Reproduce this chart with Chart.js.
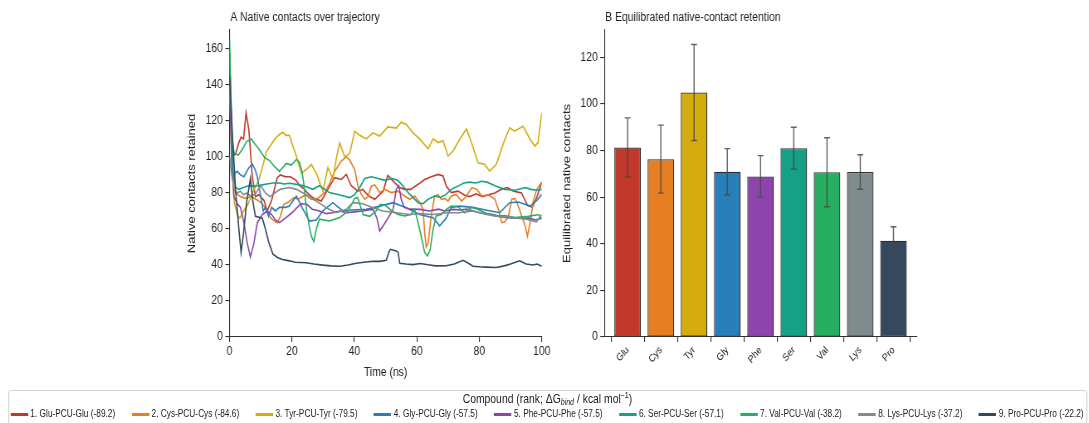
<!DOCTYPE html>
<html>
<head>
<meta charset="utf-8">
<script src="https://cdn.jsdelivr.net/npm/chart.js@4.4.1/dist/chart.umd.min.js"></script>
<style>
  html, body { margin: 0; padding: 0; background: #fff; }
  body { width: 1089px; height: 423px; position: relative; overflow: hidden; color: #222;
         font-family: 'Liberation Sans', Arial, sans-serif; }
  /* the figure is laid out on a wider sheet and compressed horizontally */
  #fig { position: absolute; left: 0; top: 0; width: 1312px; height: 423px;
         transform: scaleX(0.83); transform-origin: 0 0; }
  #trajCanvas { position: absolute; left: 0; top: 0; }
  #barCanvas { position: absolute; left: 660px; top: 0; }
  #legend { position: absolute; left: 9.6px; top: 390px; width: 1300px; height: 44px; box-sizing: border-box;
            border: 1px solid #cfcfcf; border-radius: 3px; background: #fff; }
  #legendTitle { position: absolute; left: 0; right: 0; top: 1px; text-align: center; font-size: 12.5px; line-height: 14px; }
  #legendTitle sub { font-size: 8.5px; font-style: italic; vertical-align: -2px; line-height: 0; }
  #legendTitle sup { font-size: 8.5px; vertical-align: 5px; line-height: 0; }
  #legendItems { position: absolute; left: 2px; right: 3px; top: 17px; display: flex; justify-content: space-between;
                 font-size: 10px; line-height: 12px; white-space: nowrap; }
  .item { display: flex; align-items: center; }
  .swatch { width: 21px; height: 3px; margin-right: 3px; }
</style>
</head>
<body>
<div id="fig">
  <canvas id="trajCanvas" width="680" height="385"></canvas>
  <canvas id="barCanvas" width="652" height="385"></canvas>
  <div id="legend">
    <div id="legendTitle">Compound (rank; ΔG<sub>bind</sub> / kcal mol<sup>−1</sup>)</div>
    <div id="legendItems"></div>
  </div>
</div>
<script>
// ---- series: [time (ns), native contacts] ----
const glu = [[0,140],[1,100],[2,102],[3,108],[3.7,111],[4.5,110],[5.3,124.5],[6.2,115],[7.3,89],[8.3,78],[9.4,79],[11,76],[12.1,70],[13.5,76],[15.3,88.5],[16.3,90],[17.9,89],[19.5,89],[21.3,87],[22.5,84],[24,82],[25.5,79],[27,77],[29.4,75.5],[31.5,82],[33.7,88.5],[35.8,87.5],[37.4,90.3],[39,84],[41.1,81],[42.7,82],[44.4,78.5],[46.5,76.5],[49.2,81],[50.7,89.7],[52.9,85.7],[54.5,83],[56.1,82],[58,82],[60.4,84.8],[62.5,87.5],[64.6,89],[66.8,90.3],[68.4,89.4],[69.4,83.8],[71,80.2],[73.2,81],[75.3,78.7],[77,78],[79,79.5],[81,78],[83,79],[85,80],[87,82],[89,83],[91,81],[93.5,80],[95.5,73],[97,72],[98.5,78],[100,86]];
const cys = [[0,135],[1,88],[1.9,80],[3.5,78],[5.1,77],[7,78],[9,76],[10.5,74],[12.1,70],[13.1,66.3],[14.2,64.6],[15.3,63.5],[16.3,67],[17.4,73.7],[19,75],[20.6,77.4],[22,76.5],[24.4,79],[26.2,76.5],[28.3,77],[30.4,80.2],[32,85],[33.7,92.1],[35.8,97.7],[37.4,100],[38.4,98.6],[40.1,93],[41.1,84],[42.2,79.2],[43.3,76.5],[44.4,78],[45.4,83.8],[46.5,84.5],[48.1,80.2],[49.7,82],[51.8,80.2],[53.9,81],[56.1,78.3],[57.7,76.5],[59.3,78.3],[60.9,74.7],[62,70.9],[62.5,58],[63,50],[63.6,52],[64.6,67.2],[65.7,78.3],[66.8,79],[67.9,76.5],[69,77],[70,75.5],[71,78.3],[72.6,79.2],[74.3,75.5],[75.9,78.3],[77.6,83],[79.2,82],[80.8,78.3],[82.9,79],[85,76.5],[86.1,71],[87.2,63.5],[88.2,64],[89.3,67],[90.4,76.5],[91.4,77],[92.5,72.7],[93.6,67],[94.7,61.7],[95.4,56],[96.3,63.6],[97.3,75.5],[98.4,82],[100,86]];
const tyr = [[0,140],[0.8,95],[1.5,75],[2.5,68],[3.3,66],[4.5,70],[6,74],[7.3,80],[8.5,84],[9.5,88],[10.5,94],[11.8,103],[13,106],[14.5,110],[16,112.5],[17.1,113.7],[18,112],[19.2,112],[20.3,106],[21.4,100.5],[23,91],[24.6,93],[26.2,95.8],[27.8,91],[29.9,81],[31.5,94],[33.1,87.8],[34.3,100],[35.3,107.8],[36.9,100],[38.5,102],[40.1,114.3],[41.7,112],[43.8,110],[45.9,113.4],[48.1,111.6],[50.7,116.7],[53.4,116],[55,119.3],[56.6,118],[58.8,113.4],[60.9,110],[63.6,104.5],[65.2,110],[66.8,108],[68.4,109],[70,100.5],[71.6,103.3],[73.7,109.7],[75.9,115.6],[77.5,108],[79.6,96.8],[81.7,96],[83.3,92.1],[85.5,96],[87.6,107],[89.7,116.2],[91.3,114.3],[94,117],[96.2,110],[97.8,106],[98.8,108],[100,124.5]];
const gly = [[0,155],[0.9,90],[2.5,92],[3.5,90],[4.6,89],[6.2,94],[7.3,96],[8.2,93],[8.9,89],[10,78],[10.8,70],[11.5,72],[12.5,67],[13.5,72],[14.7,70],[16,72],[17.9,72],[19.2,72.7],[21.4,78.3],[23.5,71],[25.6,64.4],[27.8,65],[29.9,70],[33.1,74.6],[36.3,70],[39,70.5],[43.8,70.9],[48.1,72.7],[52.4,74.6],[56.6,71.8],[60.9,68],[65.2,66.3],[67.3,61.7],[69.4,66],[71,72],[73.7,72.7],[78,72],[82,70.5],[86.5,69],[89.7,74.6],[92.5,75],[96.3,72.7],[98.5,76],[100,79.2]];
const phe = [[0,140],[0.7,100],[1.4,78],[2.5,74],[3.5,72],[4.6,63.5],[5.7,52],[6.7,44.5],[7.8,52],[8.9,63.5],[10.5,68],[12.1,70],[13.5,68],[14.7,65],[16,63.5],[17.9,66],[20,69],[21.7,72],[23,74],[24.7,73.7],[26.5,71],[28.8,70],[31,68.5],[33,69],[35.3,70],[37.4,69],[40,69.5],[42.5,70],[44.5,70.5],[46,70.9],[47.2,66],[48.1,58.9],[50.2,64.4],[52.4,70.9],[53.4,82],[54.2,84],[55,76.5],[56,72],[57.7,71],[61,70.9],[64,70],[67,71],[69,70],[71.6,70.9],[74,70.5],[76,71],[78,70],[80.1,69],[82,68.5],[84.4,68],[86.5,67],[88.7,66.3],[92,66],[96,66],[98,65],[100,66]];
const ser = [[0,160],[0.6,120],[1.2,90],[2,83],[3,82],[4.5,83],[6,84],[7.5,83.8],[9,84],[10.5,84.5],[12,85],[14,85.5],[16,85.5],[17.5,85],[19.2,85.4],[22.4,84.5],[24,83.8],[26.7,82],[28.8,84],[30.5,82],[32,80.2],[35,79],[38.5,77.4],[40,79],[41.7,83],[43.3,88],[45.4,89],[47.6,88],[49.7,87],[52,88],[53.9,87],[55.6,83.8],[57.2,80.2],[58.8,77.4],[60.4,74.6],[62,74],[63.6,76.5],[65.7,78.3],[67.5,77.5],[69.4,79.2],[71,82],[73.2,83.8],[75,85.5],[77,86],[78.8,85.5],[80.8,86.5],[82.5,86],[85,84],[88.2,82],[91.4,81.5],[94.7,83],[96.5,82],[98.5,81.5],[100,82]];
const val = [[0,165],[0.8,110],[1.5,102],[2.8,101],[4,104],[5.5,108.5],[7,110],[8.2,107],[9.6,104],[11.2,99.7],[12.8,98],[14.4,94.7],[16,92],[17,94],[18.2,96.4],[19.8,95.5],[21.4,98.6],[22.4,97],[23.2,92],[23.8,85],[24.7,70],[25.5,62],[26.2,56],[27,53],[27.8,60],[28.8,65.4],[32,64.4],[35.3,66.3],[38,70],[40.1,77],[41,77.5],[42.8,68],[44.9,67],[47,70],[48.3,73.7],[50,73],[52,70],[54,68],[56.1,67.2],[58,68],[59.3,70.9],[60.4,63.5],[61.4,56],[62.5,47],[63.4,45],[64.2,48],[65.2,59.8],[66.2,67.2],[67.8,68],[69.4,70.9],[71,72.7],[73,72.5],[75.3,69],[77.5,72],[79.5,71],[81.8,69],[85,67.2],[88,67.5],[91.4,66.3],[95.7,67],[99,68],[100,65.5]];
const lys = [[0,100],[0.7,90],[1.5,82],[2.5,80],[3.5,81],[4.5,79],[5.5,80],[7,78],[8.5,80],[10,84],[11.5,80],[13,78],[14.5,80],[16.2,82],[19,83],[21.4,82],[23,80.5],[24.6,79],[26,77],[27.8,75.5],[29.5,73.5],[31,71.8],[34.2,69],[37.4,70.9],[39.5,74.6],[42.7,74],[46,71.8],[49.1,70],[53.4,69],[57.7,68],[61,68.5],[65.2,68],[69.4,69],[73.5,69],[78,70],[82.3,68],[86,67],[90.8,66.3],[95.1,65.4],[98.3,64],[100,68]];
const pro = [[0,145],[1,110],[2,80],[3,60],[3.7,47],[4.5,58],[5.5,75],[6.7,88],[7.5,75],[8.3,67],[9.5,66.5],[10.5,66],[11.5,60],[12.5,53],[13.9,46],[15.5,44],[17,43],[19.2,42.3],[21,41.5],[24.5,41.2],[27,40.5],[29.9,39.9],[32.5,39.5],[35.3,39.3],[38,40],[40.6,41],[43,41.5],[46,42.1],[48,42],[50.2,42.6],[51,47],[51.5,48.7],[53.4,47.8],[54,47],[54.5,41],[56.5,40.5],[58.8,40.2],[61,40.8],[64.1,40],[66,39.5],[69.4,39.6],[72,40.5],[74.8,42.6],[76.5,41],[78,39.3],[80,39],[82,38.8],[85.5,38.6],[88,39.5],[90,40.5],[92.9,42.3],[95,40.5],[97.2,40],[98.5,40.5],[100,39.3]];

// ---- equilibrated retention: mean and standard deviation ----
const residues = ['Glu', 'Cys', 'Tyr', 'Gly', 'Phe', 'Ser', 'Val', 'Lys', 'Pro'];
const meanContacts = [81.3, 76.3, 104.9, 70.9, 68.9, 81.0, 70.7, 70.8, 41.3];
const sdContacts = [12.7, 14.6, 20.6, 9.9, 8.9, 9.0, 14.8, 7.4, 6.0];

// ---- legend entries ----
const legendLabels = ['1. Glu-PCU-Glu (-89.2)', '2. Cys-PCU-Cys (-84.6)', '3. Tyr-PCU-Tyr (-79.5)',
  '4. Gly-PCU-Gly (-57.5)', '5. Phe-PCU-Phe (-57.5)', '6. Ser-PCU-Ser (-57.1)',
  '7. Val-PCU-Val (-38.2)', '8. Lys-PCU-Lys (-37.2)', '9. Pro-PCU-Pro (-22.2)'];
const palette = ['#c0392b', '#e67e22', '#d4ac0d', '#2980b9', '#8e44ad', '#16a085', '#27ae60', '#7f8c8d', '#34495e'];

const trajTicks = [0, 20, 40, 60, 80, 100];

const FONT = "'Liberation Sans', Arial, sans-serif";
const INK = '#222';
const SPINE = '#333';

// panel heading drawn flush with the plot area's left edge
const panelTitle = {
  id: 'panelTitle',
  afterDraw(chart, args, opts) {
    const { ctx, chartArea } = chart;
    ctx.save();
    ctx.font = `12.5px ${FONT}`;
    ctx.fillStyle = INK;
    ctx.textBaseline = 'middle';
    ctx.textAlign = 'left';
    ctx.fillText(opts.text, chartArea.left + 1, 18);
    ctx.restore();
  }
};

// ±1 SD whiskers on top of the bars
const errorBars = {
  id: 'errorBars',
  afterDatasetsDraw(chart) {
    const { ctx, scales: { x, y } } = chart;
    ctx.save();
    ctx.strokeStyle = 'rgba(70,70,70,0.85)';
    ctx.lineWidth = 1.4;
    meanContacts.forEach((m, i) => {
      const px = x.getPixelForValue(i);
      const top = y.getPixelForValue(m + sdContacts[i]);
      const bot = y.getPixelForValue(m - sdContacts[i]);
      ctx.beginPath();
      ctx.moveTo(px, top); ctx.lineTo(px, bot);
      ctx.moveTo(px - 3.5, top); ctx.lineTo(px + 3.5, top);
      ctx.moveTo(px - 3.5, bot); ctx.lineTo(px + 3.5, bot);
      ctx.stroke();
    });
    ctx.restore();
  }
};

const axisCommon = {
  grid: { display: true, drawOnChartArea: false, drawTicks: true, tickLength: 5, color: SPINE, lineWidth: 1.1 },
  border: { display: true, color: SPINE, width: 1.1 }
};

const seriesList = [glu, cys, tyr, gly, phe, ser, val, lys, pro];

new Chart(document.getElementById('trajCanvas'), {
  type: 'line',
  data: {
    datasets: seriesList.map((s, i) => ({
      label: legendLabels[i],
      data: s.map(([t, v]) => ({ x: t, y: v })),
      borderColor: palette[i],
      backgroundColor: palette[i],
      borderWidth: 1.6,
      pointRadius: 0,
      tension: 0,
      order: seriesList.length - i
    }))
  },
  options: {
    responsive: false,
    animation: false,
    events: [],
    layout: { padding: { left: 220, right: 27.3, top: 30, bottom: 0 } },
    plugins: {
      legend: { display: false },
      tooltip: { enabled: false },
      panelTitle: { text: 'A Native contacts over trajectory' }
    },
    scales: {
      x: {
        type: 'linear', min: 0, max: 100,
        ...axisCommon,
        afterFit(scale) { scale.height = 48; },
        afterBuildTicks(scale) { scale.ticks = trajTicks.map(v => ({ value: v })); },
        ticks: { color: INK, font: { family: FONT, size: 12.5 }, padding: 2, maxRotation: 0 },
        title: { display: true, text: 'Time (ns)', color: INK, font: { family: FONT, size: 12.5 }, padding: { top: 0, bottom: 5 } }
      },
      y: {
        type: 'linear', min: 0, max: 170.5,
        ...axisCommon,
        afterFit(scale) { scale.width = 56.5; },
        ticks: { stepSize: 20, includeBounds: false, color: INK, font: { family: FONT, size: 12.5 }, padding: 3 },
        title: { display: true, text: 'Native contacts retained', color: INK, font: { family: FONT, size: 13 }, padding: { top: 4, bottom: 0 } }
      }
    }
  },
  plugins: [panelTitle]
});

new Chart(document.getElementById('barCanvas'), {
  type: 'bar',
  data: {
    datasets: [{
      data: meanContacts.map((m, i) => ({ x: i, y: m })),
      backgroundColor: palette,
      borderColor: '#2d2d2d',
      borderWidth: 1.3,
      borderSkipped: false,
      barPercentage: 0.8,
      categoryPercentage: 1
    }]
  },
  options: {
    responsive: false,
    animation: false,
    events: [],
    layout: { padding: { left: 12, right: 207.5, top: 30, bottom: 0 } },
    plugins: {
      legend: { display: false },
      tooltip: { enabled: false },
      panelTitle: { text: 'B Equilibrated native-contact retention' }
    },
    scales: {
      x: {
        type: 'linear', min: -0.7, max: 8.7, offset: false,
        ...axisCommon,
        afterFit(scale) { scale.height = 48; },
        ticks: {
          stepSize: 1, includeBounds: false, autoSkip: false,
          minRotation: 45, maxRotation: 45, padding: 2,
          color: INK, font: { family: FONT, size: 10.5 },
          callback: (v) => residues[v] ?? ''
        }
      },
      y: {
        type: 'linear', min: 0, max: 131.7,
        ...axisCommon,
        afterFit(scale) { scale.width = 56.1; },
        ticks: { stepSize: 20, includeBounds: false, color: INK, font: { family: FONT, size: 12.5 }, padding: 3 },
        title: { display: true, text: 'Equilibrated native contacts', color: INK, font: { family: FONT, size: 13 }, padding: { top: 4, bottom: 0 } }
      }
    }
  },
  plugins: [panelTitle, errorBars]
});

// shared legend strip
const itemsBox = document.getElementById('legendItems');
legendLabels.forEach((label, i) => {
  const item = document.createElement('div');
  item.className = 'item';
  const sw = document.createElement('span');
  sw.className = 'swatch';
  sw.style.background = palette[i];
  const tx = document.createElement('span');
  tx.textContent = label;
  item.appendChild(sw);
  item.appendChild(tx);
  itemsBox.appendChild(item);
});
</script>
</body>
</html>
